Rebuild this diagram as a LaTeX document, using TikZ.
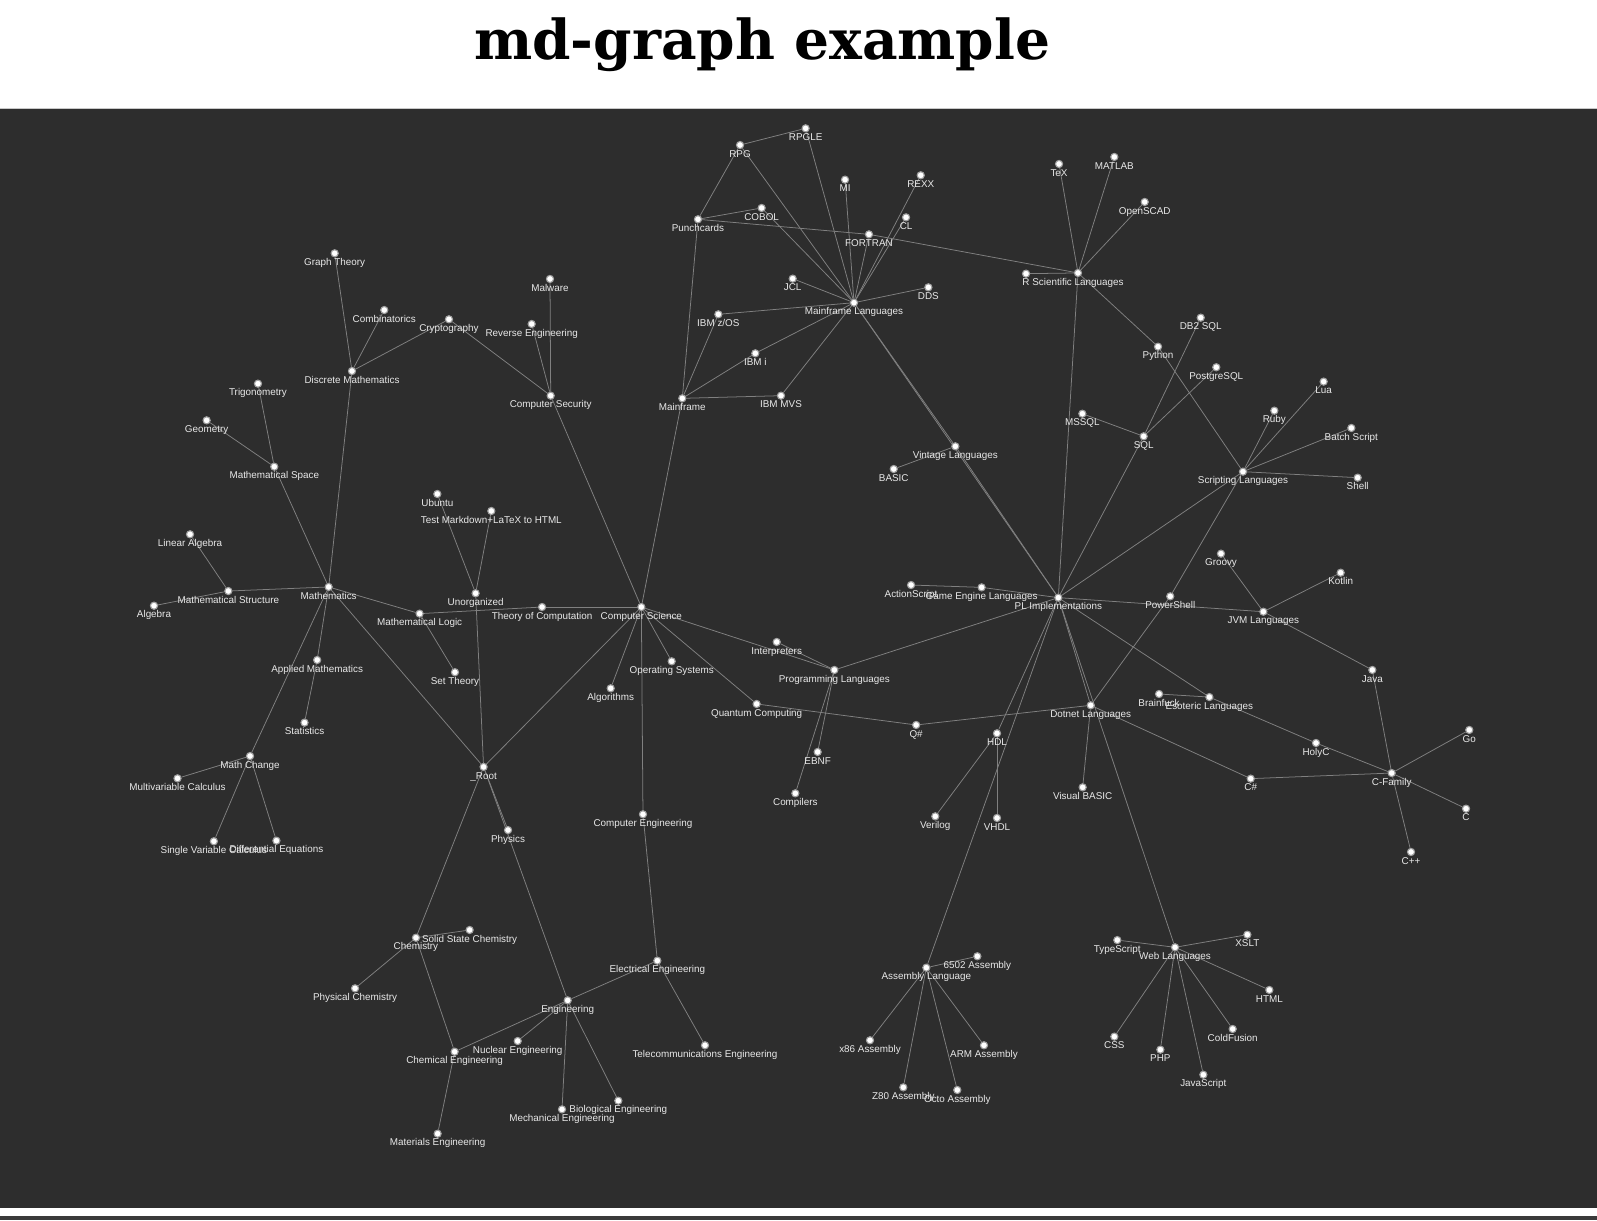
\documentclass[tikz,border=0pt]{standalone}
\usepackage{fontspec}
\newfontfamily\titlefont{DejaVu Serif}
\newfontfamily\lblfont{Liberation Sans}
\usetikzlibrary{backgrounds}
\definecolor{panel}{HTML}{2D2D2D}
\definecolor{panelline}{HTML}{C8C8C8}
\definecolor{edgecol}{HTML}{808080}
\definecolor{dotrim}{HTML}{A0A0A0}
\definecolor{lbltext}{HTML}{E8E8E8}
\definecolor{bottomstrip}{HTML}{3A3A3A}
\pgfdeclarelayer{bglayer}
\pgfdeclarelayer{edgelayer}
\pgfsetlayers{bglayer,edgelayer,main}
\tikzset{
  dot/.style={circle, fill=white, draw=dotrim, line width=1.1pt, minimum size=7pt, inner sep=0pt},
  lbl/.style={font=\lblfont\fontsize{9.7}{11}\selectfont, text=lbltext, inner sep=0pt, anchor=base},
  edgeline/.style={draw=edgecol, line width=0.75pt},
  titletext/.style={font=\titlefont\bfseries\fontsize{54}{60}\selectfont, text=black, inner sep=0pt, anchor=base},
}
\newcommand\gn[4]{\node[dot] (#1) at (#2,#3) {}; \node[lbl] (#1-l) at (#2,#3+12) {#4};}
\newcommand\ed[2]{\draw[edgeline] (#1) -- (#2);}
\begin{document}
\begin{tikzpicture}[x=1pt,y=-1pt]
\useasboundingbox (0,0) rectangle (1568,1198);
\begin{pgfonlayer}{bglayer}
  \fill[white] (0,0) rectangle (1568,1198);
  \fill[panel] (0,106) rectangle (1568,1186);
  \draw[panelline, line width=1.2pt] (0,106.5) -- (1568,106.5);
  \fill[bottomstrip] (0,1194) rectangle (1568,1198);
\end{pgfonlayer}
\node[titletext] (title) at (748.5,58) {md-graph example};
% nodes
\gn{rpgle}{791}{126}{RPGLE}
\gn{rpg}{726.6}{142.4}{RPG}
\gn{mi}{829.7}{176.4}{MI}
\gn{rexx}{904}{172.1}{REXX}
\gn{cl}{889.6}{213.4}{CL}
\gn{cobol}{747.8}{204.2}{COBOL}
\gn{punch}{685.3}{215.3}{Punchcards}
\gn{fortran}{853.2}{230.1}{FORTRAN}
\gn{jcl}{778.3}{273.6}{JCL}
\gn{dds}{911.5}{282.1}{DDS}
\gn{ml}{838.5}{297.2}{Mainframe Languages}
\gn{zos}{705.3}{308.6}{IBM z/OS}
\gn{ibmi}{741.6}{346.9}{IBM i}
\gn{mvs}{766.8}{388.5}{IBM MVS}
\gn{mainframe}{669.9}{391.1}{Mainframe}
\gn{tex}{1039.8}{161}{TeX}
\gn{matlab}{1094.1}{154.1}{MATLAB}
\gn{openscad}{1123.9}{198.3}{OpenSCAD}
\gn{rlang}{1007.4}{268.7}{R}
\gn{sci}{1058.4}{268}{Scientific Languages}
\gn{db2}{1178.9}{311.9}{DB2 SQL}
\gn{python}{1137}{340.4}{Python}
\gn{postgres}{1194.2}{360.6}{PostgreSQL}
\gn{lua}{1299.6}{374.7}{Lua}
\gn{ruby}{1251.2}{403.2}{Ruby}
\gn{mssql}{1062.7}{406.2}{MSSQL}
\gn{batch}{1326.8}{420.2}{Batch Script}
\gn{sql}{1122.9}{428.4}{SQL}
\gn{script}{1220.4}{463.1}{Scripting Languages}
\gn{shell}{1333}{469}{Shell}
\gn{vintage}{938}{438.2}{Vintage Languages}
\gn{basic}{877.5}{460.5}{BASIC}
\gn{groovy}{1198.8}{543.6}{Groovy}
\gn{kotlin}{1316.3}{562.3}{Kotlin}
\gn{actionscript}{894.5}{574.4}{ActionScript}
\gn{gel}{963.8}{576.7}{Game Engine Languages}
\gn{pli}{1039.1}{586.8}{PL Implementations}
\gn{powershell}{1149}{585.5}{PowerShell}
\gn{jvm}{1240.4}{600.6}{JVM Languages}
\gn{java}{1347.4}{657.8}{Java}
\gn{brainfuck}{1138}{681.4}{Brainfuck}
\gn{esoteric}{1187.4}{684.4}{Esoteric Languages}
\gn{dotnet}{1070.9}{692.5}{Dotnet Languages}
\gn{holyc}{1292.1}{729.5}{HolyC}
\gn{go}{1442.6}{716.7}{Go}
\gn{cfam}{1366.4}{759}{C-Family}
\gn{csharp}{1228}{764.5}{C\#}
\gn{cc}{1439.4}{794}{C}
\gn{cpp}{1385.4}{836.5}{C++}
\gn{vb}{1063}{773}{Visual BASIC}
\gn{qsharp}{899.5}{711.8}{Q\#}
\gn{hdl}{978.9}{720}{HDL}
\gn{verilog}{918.3}{801.5}{Verilog}
\gn{vhdl}{978.9}{803.1}{VHDL}
\gn{cs}{629.7}{596}{Computer Science}
\gn{interp}{762.6}{630.3}{Interpreters}
\gn{os}{659.5}{649.3}{Operating Systems}
\gn{proglang}{819.2}{657.8}{Programming Languages}
\gn{algo}{599.6}{675.8}{Algorithms}
\gn{quantum}{742.9}{691.2}{Quantum Computing}
\gn{ebnf}{802.8}{738.3}{EBNF}
\gn{compilers}{780.9}{778.9}{Compilers}
\gn{compeng}{631.3}{799.5}{Computer Engineering}
\gn{graph}{328.6}{248.7}{Graph Theory}
\gn{malware}{540}{273.9}{Malware}
\gn{combi}{377.3}{304.4}{Combinatorics}
\gn{crypto}{440.8}{313.5}{Cryptography}
\gn{reveng}{522}{318.1}{Reverse Engineering}
\gn{discrete}{345.6}{364.3}{Discrete Mathematics}
\gn{trig}{253.3}{376.7}{Trigonometry}
\gn{compsec}{540.7}{388.5}{Computer Security}
\gn{geometry}{202.9}{412.7}{Geometry}
\gn{mathspace}{269.3}{458.2}{Mathematical Space}
\gn{ubuntu}{429.4}{485}{Ubuntu}
\gn{testmd}{482.4}{501.7}{Test Markdown+LaTeX to HTML}
\gn{linalg}{186.6}{524.6}{Linear Algebra}
\gn{maths}{322.7}{576.3}{Mathematics}
\gn{mathstruct}{224.2}{580.3}{Mathematical Structure}
\gn{unorg}{467}{582.5}{Unorganized}
\gn{algebra}{151.2}{594.7}{Algebra}
\gn{toc}{532.2}{596}{Theory of Computation}
\gn{mathlogic}{412}{602.5}{Mathematical Logic}
\gn{settheory}{446.7}{660}{Set Theory}
\gn{applied}{311.4}{648}{Applied Mathematics}
\gn{stats}{299}{709.5}{Statistics}
\gn{mathchange}{245.5}{742.3}{Math Change}
\gn{multivar}{174.3}{764.2}{Multivariable Calculus}
\gn{singlevar}{210}{826}{Single Variable Calculus}
\gn{diffeq}{271.4}{825.4}{Differential Equations}
\gn{root}{474.8}{753}{\_Root}
\gn{physics}{498.8}{815}{Physics}
\gn{chemistry}{408.4}{920.7}{Chemistry}
\gn{solidstate}{461.1}{913.1}{Solid State Chemistry}
\gn{electrical}{645.4}{943.2}{Electrical Engineering}
\gn{physchem}{348.6}{970.4}{Physical Chemistry}
\gn{engineering}{557.4}{982.2}{Engineering}
\gn{nuclear}{508.3}{1022.1}{Nuclear Engineering}
\gn{chemeng}{446.4}{1032.6}{Chemical Engineering}
\gn{telecom}{692.2}{1026.3}{Telecommunications Engineering}
\gn{bio}{607.1}{1080.7}{Biological Engineering}
\gn{mech}{551.8}{1089.2}{Mechanical Engineering}
\gn{materials}{429.7}{1113.1}{Materials Engineering}
\gn{assembly}{909.5}{950.1}{Assembly Language}
\gn{asixfive}{959.6}{938.9}{6502 Assembly}
\gn{xeightsix}{854.2}{1021.4}{x86 Assembly}
\gn{arm}{966.1}{1026.3}{ARM Assembly}
\gn{zeighty}{886.9}{1067.6}{Z80 Assembly}
\gn{octo}{939.9}{1070.2}{Octo Assembly}
\gn{typescript}{1097}{923}{TypeScript}
\gn{web}{1153.7}{930.1}{Web Languages}
\gn{xslt}{1224.7}{917.7}{XSLT}
\gn{html}{1246.3}{972}{HTML}
\gn{css}{1094.1}{1017.8}{CSS}
\gn{php}{1139.3}{1030.6}{PHP}
\gn{coldfusion}{1210.3}{1010.3}{ColdFusion}
\gn{javascript}{1181.5}{1055.2}{JavaScript}
% edges
\begin{pgfonlayer}{edgelayer}
\ed{rpg}{rpgle}\ed{rpg}{punch}\ed{rpg}{ml}\ed{rpgle}{ml}\ed{mi}{ml}\ed{rexx}{ml}\ed{cl}{ml}
\ed{cobol}{punch}\ed{cobol}{ml}\ed{punch}{fortran}\ed{fortran}{ml}\ed{fortran}{sci}
\ed{punch}{mainframe}\ed{jcl}{ml}\ed{dds}{ml}\ed{zos}{ml}\ed{zos}{mainframe}
\ed{ibmi}{ml}\ed{ibmi}{mainframe}\ed{mvs}{ml}\ed{mvs}{mainframe}\ed{mainframe}{cs}
\ed{ml}{vintage}\ed{vintage}{pli}\ed{ml}{pli}\ed{basic}{vintage}
\ed{tex}{sci}\ed{matlab}{sci}\ed{openscad}{sci}\ed{rlang}{sci}\ed{sci}{python}\ed{python}{script}\ed{sci}{pli}
\ed{db2}{sql}\ed{postgres}{sql}\ed{mssql}{sql}\ed{sql}{pli}
\ed{lua}{script}\ed{ruby}{script}\ed{batch}{script}\ed{shell}{script}\ed{script}{pli}
\ed{script}{powershell}\ed{powershell}{dotnet}
\ed{actionscript}{gel}\ed{gel}{pli}\ed{pli}{jvm}\ed{groovy}{jvm}\ed{kotlin}{jvm}\ed{jvm}{java}\ed{java}{cfam}
\ed{pli}{esoteric}\ed{brainfuck}{esoteric}\ed{esoteric}{holyc}\ed{holyc}{cfam}
\ed{go}{cfam}\ed{cc}{cfam}\ed{cpp}{cfam}\ed{csharp}{cfam}\ed{dotnet}{csharp}
\ed{pli}{dotnet}\ed{dotnet}{vb}\ed{qsharp}{dotnet}\ed{quantum}{qsharp}
\ed{pli}{proglang}\ed{pli}{hdl}\ed{hdl}{verilog}\ed{hdl}{vhdl}\ed{pli}{assembly}\ed{pli}{web}
\ed{assembly}{asixfive}\ed{assembly}{xeightsix}\ed{assembly}{arm}\ed{assembly}{zeighty}\ed{assembly}{octo}
\ed{web}{typescript}\ed{web}{xslt}\ed{web}{html}\ed{web}{css}\ed{web}{php}\ed{web}{coldfusion}\ed{web}{javascript}
\ed{cs}{compsec}\ed{cs}{toc}\ed{cs}{os}\ed{cs}{algo}\ed{cs}{quantum}\ed{cs}{proglang}\ed{cs}{compeng}\ed{cs}{root}
\ed{interp}{proglang}\ed{proglang}{ebnf}\ed{proglang}{compilers}
\ed{compsec}{malware}\ed{compsec}{reveng}\ed{compsec}{crypto}\ed{crypto}{discrete}\ed{combi}{discrete}\ed{graph}{discrete}\ed{discrete}{maths}
\ed{trig}{mathspace}\ed{geometry}{mathspace}\ed{mathspace}{maths}
\ed{linalg}{mathstruct}\ed{algebra}{mathstruct}\ed{mathstruct}{maths}
\ed{maths}{mathlogic}\ed{mathlogic}{toc}\ed{mathlogic}{settheory}
\ed{maths}{applied}\ed{applied}{stats}\ed{maths}{mathchange}\ed{maths}{root}
\ed{mathchange}{multivar}\ed{mathchange}{singlevar}\ed{mathchange}{diffeq}
\ed{ubuntu}{unorg}\ed{testmd}{unorg}\ed{unorg}{root}
\ed{root}{physics}\ed{root}{engineering}\ed{root}{chemistry}
\ed{chemistry}{solidstate}\ed{chemistry}{physchem}\ed{chemistry}{chemeng}
\ed{chemeng}{engineering}\ed{chemeng}{materials}
\ed{engineering}{nuclear}\ed{engineering}{mech}\ed{engineering}{bio}\ed{engineering}{electrical}
\ed{electrical}{compeng}\ed{electrical}{telecom}
\end{pgfonlayer}
\end{tikzpicture}
\end{document}
